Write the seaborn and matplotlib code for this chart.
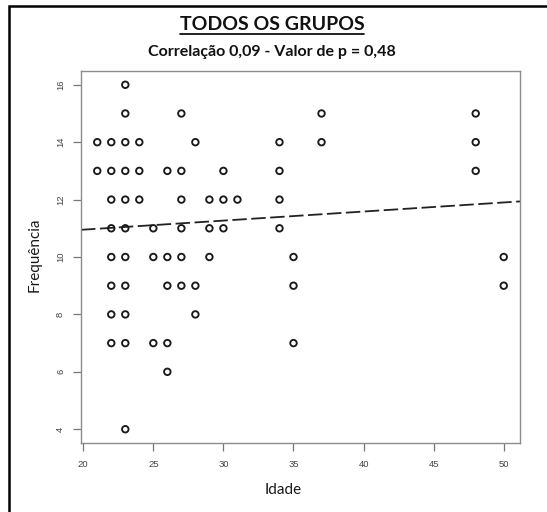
import matplotlib
matplotlib.use("Agg")
import matplotlib.pyplot as plt
import seaborn as sns
import pandas as pd
import numpy as np
from matplotlib.patches import Rectangle
from matplotlib.lines import Line2D

# ---- data ----
idade = [21, 21,
         22, 22, 22, 22, 22, 22, 22, 22,
         23, 23, 23, 23, 23, 23, 23, 23, 23, 23, 23,
         24, 24, 24,
         25, 25, 25,
         26, 26, 26, 26, 26,
         27, 27, 27, 27, 27, 27,
         28, 28, 28,
         29, 29, 29,
         30, 30, 30,
         31,
         34, 34, 34, 34,
         35, 35, 35,
         37, 37,
         48, 48, 48,
         50, 50]
frequencia = [14, 13,
              14, 13, 12, 11, 10, 9, 8, 7,
              16, 15, 14, 13, 12, 11, 10, 9, 8, 7, 4,
              14, 13, 12,
              11, 10, 7,
              13, 10, 9, 7, 6,
              15, 13, 12, 11, 10, 9,
              14, 9, 8,
              12, 11, 10,
              13, 12, 11,
              12,
              14, 13, 12, 11,
              10, 9, 7,
              15, 14,
              15, 14, 13,
              10, 9]
trend_intercept = 10.32
trend_slope = 0.0316
x_ticks = [20, 25, 30, 35, 40, 45, 50]
y_ticks = [4, 6, 8, 10, 12, 14, 16]
titulo = "TODOS OS GRUPOS"
subtitulo = "Correlação 0,09 - Valor de p = 0,48"

df = pd.DataFrame({"Idade": idade, "Frequência": frequencia})

sns.set_style("white")
plt.rcParams["font.family"] = ["Liberation Sans", "DejaVu Sans"]

W, H = 547, 512
fig = plt.figure(figsize=(W / 100, H / 100), dpi=100)
ax = fig.add_axes([81 / W, 1 - 443 / H, (520 - 81) / W, (443 - 71) / H])

xlim = (19.84, 51.16)
ax.set_xlim(*xlim)
ax.set_ylim(3.52, 16.48)

sns.scatterplot(data=df, x="Idade", y="Frequência", ax=ax, s=22,
                facecolor="none", edgecolor="#1a1a1a", linewidth=1.35,
                marker="o", zorder=3)

lx = np.array(xlim)
trend = pd.DataFrame({"x": lx, "y": trend_intercept + trend_slope * lx})
sns.lineplot(data=trend, x="x", y="y", ax=ax, color="#222222", lw=1.3,
             dashes=False, zorder=2)
ax.lines[-1].set_dashes([8, 2.5])

for sp in ax.spines.values():
    sp.set_color("#8c8c8c")
    sp.set_linewidth(1.0)

ax.set_xticks(x_ticks)
ax.set_yticks(y_ticks)
ax.tick_params(axis="both", which="both", direction="out", length=5.5,
               width=0.9, color="#777777", labelsize=6.8,
               labelcolor="#444444", bottom=True, left=True)
ax.tick_params(axis="x", pad=7)
ax.tick_params(axis="y", pad=6)
for lab in ax.get_yticklabels():
    lab.set_rotation(90)
    lab.set_va("center")

ax.set_xlabel("")
ax.set_ylabel("")
fig.text(283 / W, 1 - 490 / H, "Idade", ha="center", va="center",
         fontsize=11, family=["Lato", "DejaVu Sans"], color="#1a1a1a")
fig.text(35 / W, 1 - 255 / H, "Frequência", ha="center", va="center",
         rotation=90, fontsize=11, family=["Lato", "DejaVu Sans"],
         color="#1a1a1a")

t = fig.text(272 / W, 1 - 25 / H, titulo, ha="center", va="center",
             fontsize=14, fontweight="bold", family=["Lato", "DejaVu Sans"],
             color="#111111")
fig.text(272 / W, 1 - 52 / H, subtitulo, ha="center", va="center",
         fontsize=11.5, fontweight="bold", family=["Lato", "DejaVu Sans"],
         color="#111111")

# underline for the title
fig.canvas.draw()
bb = t.get_window_extent(renderer=fig.canvas.get_renderer())
uy = 1 - 34 / H
fig.add_artist(Line2D([bb.x0 / W, bb.x1 / W], [uy, uy], color="#111111",
                      lw=1.3, transform=fig.transFigure))

# outer black frame (top and left visible)
fig.add_artist(Rectangle((9 / W, -0.1), 1.2, 1 - 6 / H + 0.1,
                         transform=fig.transFigure, fill=False,
                         edgecolor="black", lw=1.8))

fig.savefig("out.png", dpi=100)
